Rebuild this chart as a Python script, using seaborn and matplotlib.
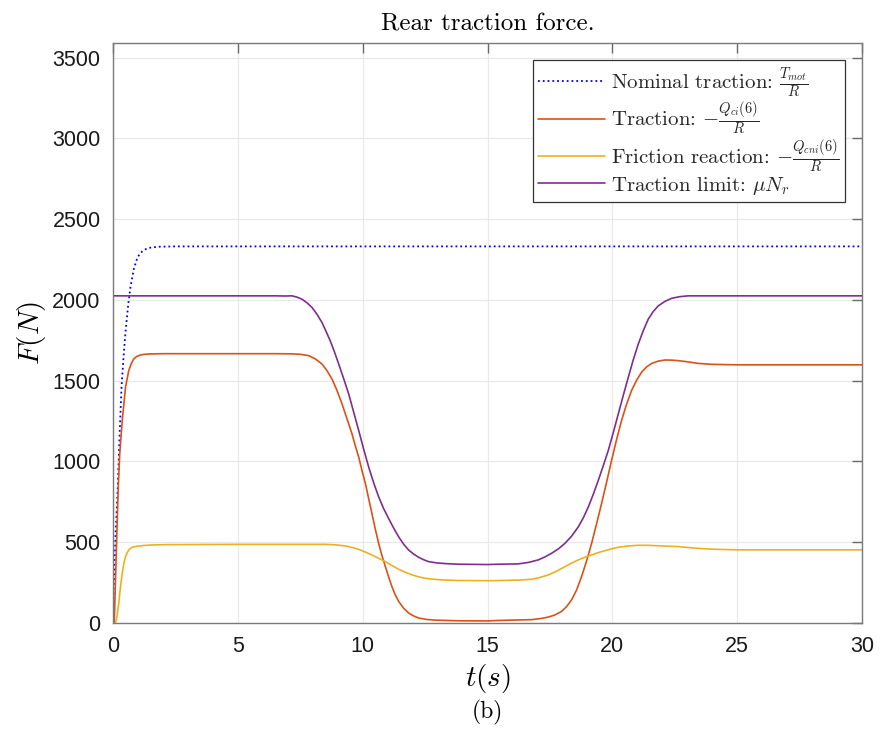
import matplotlib
matplotlib.use("Agg")
import matplotlib.pyplot as plt
import seaborn as sns
import pandas as pd

# ---------------- data ----------------
nominal_t = [0, 0.03, 0.10, 0.19, 0.26, 0.34, 0.43, 0.50, 0.61, 0.70, 0.83, 0.97,
             1.05, 1.17, 1.30, 1.43, 1.83, 2.5, 5, 10, 15, 20, 25, 30]
nominal_F = [0, 226, 534, 842, 1151, 1459, 1665, 1800, 1973, 2080, 2190, 2258,
             2280, 2300, 2313, 2322, 2329, 2331, 2331, 2331, 2331, 2331, 2331, 2331]

traction_t = [0, 0.05, 0.13, 0.21, 0.27, 0.37, 0.50, 0.63, 0.73, 0.83, 0.95, 1.10,
              1.25, 1.43, 2.0, 4, 6.5, 7.17, 7.5, 7.84, 8.1, 8.37, 8.57, 8.77,
              8.97, 9.17, 9.37, 9.57, 9.70, 9.84, 9.97, 10.11, 10.24, 10.37, 10.50,
              10.64, 10.77, 10.91, 11.04, 11.17, 11.30, 11.44, 11.64, 11.84, 12.04,
              12.24, 12.57, 12.91, 13.85, 15.0, 15.43, 16.77, 17.14, 17.44, 17.7,
              17.97, 18.17, 18.37, 18.57, 18.77, 18.97, 19.17, 19.37, 19.57, 19.77,
              19.97, 20.17, 20.37, 20.57, 20.77, 20.97, 21.17, 21.37, 21.58, 21.84,
              22.11, 22.4, 22.64, 23.0, 23.44, 24.0, 25, 30]
traction_F = [0, 0, 432, 842, 1048, 1254, 1459, 1562, 1605, 1634, 1650, 1659,
              1663, 1665, 1667, 1667, 1667, 1666, 1663, 1655, 1635, 1603, 1562, 1511,
              1440, 1357, 1265, 1172, 1100, 1028, 945, 863, 770, 678, 585,
              493, 418, 349, 285, 226, 176, 134, 92, 62, 44,
              31, 22, 18, 14, 13, 16, 21, 28, 37, 50,
              72, 102, 144, 205, 288, 385, 493, 615, 740, 872,
              1007, 1135, 1254, 1354, 1439, 1502, 1552, 1585, 1607, 1621,
              1628, 1627, 1624, 1617, 1607, 1601, 1598, 1598]

friction_t = [0, 0.10, 0.16, 0.23, 0.30, 0.37, 0.43, 0.50, 0.57, 0.63, 0.70, 0.77,
              0.95, 1.17, 1.5, 2.10, 5, 8.5, 8.9, 9.31, 9.6, 9.84, 10.1, 10.37,
              10.64, 10.91, 11.17, 11.44, 11.71, 11.98, 12.24, 12.5, 12.84, 13.18,
              13.85, 15, 15.43, 16.3, 16.77, 17.1, 17.44, 17.77, 18.10, 18.37,
              18.64, 18.9, 19.17, 19.44, 19.71, 19.97, 20.24, 20.64, 21.04, 21.4,
              21.71, 22.2, 22.64, 23.0, 23.44, 24.0, 24.5, 25, 30]
friction_F = [0, 0, 41, 123, 226, 308, 365, 411, 435, 452, 462, 469,
              475, 479, 483, 485, 487, 487, 484, 477, 467, 456, 440, 421,
              401, 380, 356, 333, 314, 298, 286, 277, 271, 267,
              263, 262, 263, 266, 271, 282, 298, 321, 349, 371,
              391, 407, 421, 436, 448, 459, 469, 477, 481, 481,
              479, 476, 473, 468, 462, 457, 455, 453, 453]

limit_t = [0, 5, 6.5, 6.9, 7.17, 7.37, 7.57, 7.77, 7.97, 8.17, 8.37, 8.53, 8.70,
           8.87, 9.04, 9.24, 9.44, 9.64, 9.84, 10.04, 10.24, 10.44, 10.64, 10.84,
           11.04, 11.24, 11.44, 11.64, 11.84, 12.04, 12.24, 12.44, 12.64, 12.97,
           13.3, 13.85, 15, 15.43, 16.23, 16.64, 17.04, 17.3, 17.57, 17.84, 18.10,
           18.37, 18.64, 18.84, 19.04, 19.24, 19.44, 19.64, 19.84, 20.04, 20.24,
           20.44, 20.64, 20.84, 21.04, 21.24, 21.44, 21.64, 21.84, 22.1, 22.38,
           22.7, 23.04, 25, 30]
limit_F = [2025, 2025, 2025, 2024, 2025, 2017, 2004, 1982, 1953, 1911, 1860, 1806, 1747,
           1678, 1603, 1512, 1418, 1305, 1192, 1076, 966, 868, 781, 708,
           647, 588, 534, 488, 452, 427, 407, 392, 380, 372,
           368, 364, 362, 364, 366, 375, 391, 409, 432, 459, 493,
           538, 596, 652, 719, 798, 884, 975, 1069, 1180, 1295,
           1410, 1521, 1630, 1727, 1810, 1881, 1928, 1963, 1990, 2010,
           2020, 2025, 2025, 2025]

labels = [r"Nominal traction: $\frac{T_{mot}}{R}$",
          r"Traction: $-\frac{Q_{ci}(6)}{R}$",
          r"Friction reaction: $-\frac{Q_{cni}(6)}{R}$",
          r"Traction limit: $\mu N_r$"]
colors = ["#0000FF", "#D95319", "#EDB120", "#7E2F8E"]
styles = [":", "-", "-", "-"]

x_ticks = [0, 5, 10, 15, 20, 25, 30]
y_ticks = [0, 500, 1000, 1500, 2000, 2500, 3000, 3500]

# ---------------- style ----------------
sns.set_theme(style="white")
plt.rcParams["mathtext.fontset"] = "cm"
plt.rcParams["font.family"] = ["Liberation Sans", "DejaVu Sans"]
plt.rcParams["axes.unicode_minus"] = False
SERIF = ["cmr10", "DejaVu Serif"]

fig = plt.figure(figsize=(8.85, 7.41), dpi=100)
ax = fig.add_axes([0.1277, 0.1592, 0.8463, 0.7828])

series = [(nominal_t, nominal_F), (traction_t, traction_F),
          (friction_t, friction_F), (limit_t, limit_F)]
for (t, F), lab, col, ls in zip(series, labels, colors, styles):
    df = pd.DataFrame({"t": t, "F": F})
    sns.lineplot(data=df, x="t", y="F", ax=ax, color=col, linestyle=ls,
                 linewidth=1.3 if ls == ":" else 1.2, label=lab, estimator=None,
                 sort=False)

ax.set_xlim(0, 30)
ax.set_ylim(0, 3590)
ax.set_xticks(x_ticks)
ax.set_yticks(y_ticks)
ax.set_xticklabels([str(v) for v in x_ticks])
ax.set_yticklabels([str(v) for v in y_ticks])
ax.grid(True, color="#e8e8e8", linewidth=0.9)
ax.set_axisbelow(True)
for sp in ax.spines.values():
    sp.set_color("#7a7a7a")
    sp.set_linewidth(1.0)
ax.tick_params(axis="both", which="both", direction="in", length=7, width=1.0,
               color="#6a6a6a", top=True, right=True, labelsize=15.5,
               labelcolor="#1a1a1a", pad=9)

ax.set_xlabel(r"$t(s)$", fontsize=21, labelpad=4, color="black")
ax.set_ylabel(r"$F(N)$", fontsize=21, labelpad=3, color="black")
ax.set_title("Rear traction force.", fontsize=18, pad=9, color="black",
             family=SERIF)

leg = ax.legend(loc="upper right", bbox_to_anchor=(0.977, 0.971),
                borderaxespad=0, prop={"family": SERIF, "size": 15},
                frameon=True, fancybox=False,
                framealpha=1, edgecolor="#333333", handlelength=3.2,
                handletextpad=0.3, labelspacing=0.0, borderpad=0.25)
leg.get_frame().set_linewidth(0.9)

fig.text(0.5507, 0.039, "(b)", ha="center", va="center",
         fontsize=17, color="black", family=SERIF)

fig.savefig("out.png", dpi=100, facecolor="white")
